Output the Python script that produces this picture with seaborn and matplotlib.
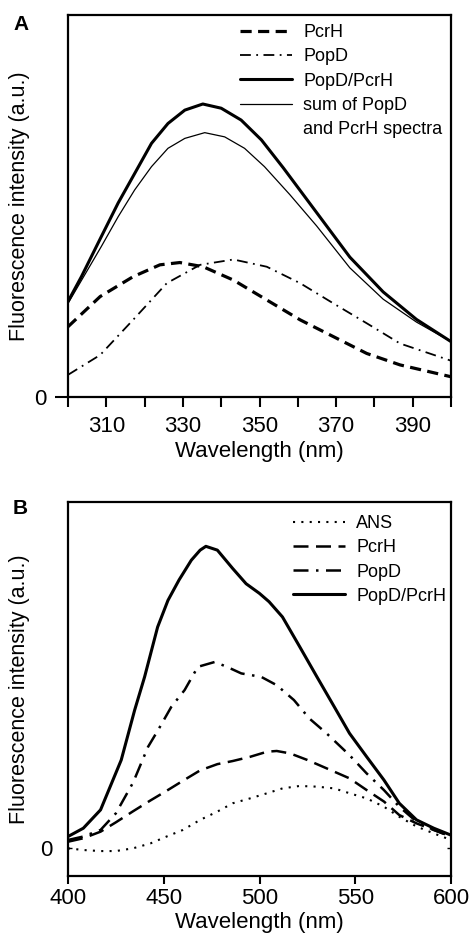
import matplotlib
matplotlib.use("Agg")
import matplotlib.pyplot as plt
from matplotlib.lines import Line2D
import numpy as np
import pandas as pd
import seaborn as sns

sns.set_theme(style="white")
plt.rcParams['font.family'] = ['Liberation Sans', 'DejaVu Sans']
plt.rcParams.update({"text.color": "black", "axes.labelcolor": "black",
                     "xtick.color": "black", "ytick.color": "black"})

# ---------------- Panel A data ----------------
a_wl = [300, 303.5, 308.7, 313.1, 317.4, 321.8, 326.1, 330.5, 335.2, 340.0, 345.2, 350.5, 356.2, 364.9, 373.6, 382.3, 391, 400]
a_popd_pcrh = [0.250, 0.315, 0.420, 0.508, 0.585, 0.664, 0.716, 0.751, 0.767, 0.756, 0.725, 0.673, 0.600, 0.483, 0.366, 0.275, 0.203, 0.145]

a_sum_wl = [300, 308.7, 313.1, 317.4, 321.8, 326.1, 330.5, 335.7, 340.9, 346.1, 351.3, 357.9, 364.9, 373.6, 382.3, 391, 400]
a_sum = [0.245, 0.394, 0.472, 0.542, 0.603, 0.651, 0.677, 0.692, 0.681, 0.651, 0.603, 0.530, 0.448, 0.338, 0.256, 0.196, 0.145]

a_pcrh_wl = [300, 308.4, 317, 324, 329.2, 335.3, 343.2, 351.9, 360.6, 369.3, 378, 386.7, 400]
a_pcrh = [0.184, 0.263, 0.315, 0.346, 0.352, 0.341, 0.306, 0.254, 0.202, 0.158, 0.114, 0.084, 0.053]

a_popd_wl = [300, 308.4, 317, 325.8, 334.5, 343.2, 351.9, 360.6, 369.3, 378, 386.7, 400]
a_popd = [0.058, 0.110, 0.202, 0.298, 0.346, 0.360, 0.341, 0.298, 0.245, 0.193, 0.140, 0.095]

a_xticks = [310, 330, 350, 370, 390]
a_xminor = [300, 320, 340, 360, 380, 400]

# ---------------- Panel B data ----------------
b_tot_wl = [400, 408, 417, 427.8, 434.8, 440, 446.8, 452.2, 458, 464.4, 469, 472, 478, 486, 493, 500, 505, 512, 521, 530, 539, 547, 556, 565, 573, 582, 591, 600]
b_tot = [0.034, 0.058, 0.111, 0.255, 0.399, 0.495, 0.639, 0.716, 0.775, 0.832, 0.861, 0.872, 0.861, 0.808, 0.764, 0.736, 0.712, 0.668, 0.582, 0.495, 0.409, 0.332, 0.264, 0.197, 0.130, 0.082, 0.058, 0.038]

b_popd_wl = [400, 408, 417, 425, 434, 441.8, 447, 453.9, 460.9, 467.8, 476.6, 483, 490.5, 500.9, 509, 518, 526, 535, 547, 556, 565, 573, 582, 591, 600]
b_popd = [0.024, 0.034, 0.053, 0.101, 0.190, 0.293, 0.341, 0.408, 0.457, 0.524, 0.538, 0.524, 0.505, 0.495, 0.471, 0.428, 0.375, 0.332, 0.269, 0.216, 0.168, 0.120, 0.077, 0.053, 0.034]

b_pcrh_wl = [400, 408, 417, 425, 434, 443, 451.5, 460, 469, 478, 486, 495, 504, 509, 516, 525, 535, 547, 556, 565, 573, 582, 591, 600]
b_pcrh = [0.019, 0.029, 0.048, 0.075, 0.107, 0.138, 0.166, 0.195, 0.225, 0.243, 0.252, 0.264, 0.279, 0.281, 0.274, 0.255, 0.231, 0.202, 0.168, 0.135, 0.096, 0.072, 0.053, 0.034]

b_ans_wl = [400, 408, 417, 425, 434, 443, 451.5, 460, 469, 478, 486, 495, 504, 512, 521, 530, 539, 547, 556, 565, 573, 582, 591, 600]
b_ans = [0.0, -0.005, -0.008, -0.008, 0.0, 0.014, 0.034, 0.053, 0.082, 0.106, 0.130, 0.144, 0.159, 0.173, 0.180, 0.178, 0.173, 0.159, 0.144, 0.120, 0.091, 0.063, 0.043, 0.024]

b_xticks = [400, 450, 500, 550, 600]

fig = plt.figure(figsize=(4.7, 9.4), dpi=100)
axA = fig.add_axes([68/470, 1-397/940, (451-68)/470, (397-15)/940])
axB = fig.add_axes([68/470, 1-876/940, (451-68)/470, (876-502)/940])

def draw(ax, x, y, **kw):
    df = pd.DataFrame({"x": x, "y": y})
    sns.lineplot(data=df, x="x", y="y", ax=ax, color="black", estimator=None, sort=True, **kw)

LS_A_PCRH = (0, (3.5, 2))
LS_DASHDOT = (0, (6, 3, 1, 3))
LS_B_PCRH = (0, (6, 3))
LS_DOT = (0, (1, 3))

# Panel A
draw(axA, a_pcrh_wl, a_pcrh, linewidth=2.3, linestyle=LS_A_PCRH)
draw(axA, a_popd_wl, a_popd, linewidth=1.3, linestyle=LS_DASHDOT)
draw(axA, a_wl, a_popd_pcrh, linewidth=2.2, linestyle="-")
draw(axA, a_sum_wl, a_sum, linewidth=0.9, linestyle="-")

axA.set_xlim(300, 400)
axA.set_ylim(0, 1)
axA.set_xticks(a_xticks)
axA.set_xticks(a_xminor, minor=True)
axA.set_yticks([0])
axA.set_yticklabels(["0"])
axA.tick_params(axis="x", which="both", direction="out", length=7.5, width=1.5,
                labelsize=16, pad=6, bottom=True)
axA.tick_params(axis="y", direction="out", length=9.5, width=1.5, labelsize=16, left=True, pad=6)
axA.set_xlabel("Wavelength (nm)", fontsize=16, labelpad=3)
axA.set_ylabel("Fluorescence intensity (a.u.)", fontsize=15.5)

hA = [Line2D([], [], color="black", lw=2.3, ls=LS_A_PCRH),
      Line2D([], [], color="black", lw=1.3, ls=LS_DASHDOT),
      Line2D([], [], color="black", lw=2.2, ls="-"),
      Line2D([], [], color="black", lw=0.9, ls="-"),
      Line2D([], [], color="none", lw=0)]
lA = ["PcrH", "PopD", "PopD/PcrH", "sum of PopD", "and PcrH spectra"]
legA = axA.legend(hA, lA, loc="upper left", bbox_to_anchor=((240-68)/383, 0.976), frameon=False,
                  fontsize=13, handlelength=2.9, handletextpad=0.6, labelspacing=0.4,
                  borderaxespad=0, borderpad=0)

# Panel B
draw(axB, b_ans_wl, b_ans, linewidth=1.5, linestyle=LS_DOT)
draw(axB, b_pcrh_wl, b_pcrh, linewidth=1.8, linestyle=LS_B_PCRH)
draw(axB, b_popd_wl, b_popd, linewidth=1.8, linestyle=LS_DASHDOT)
draw(axB, b_tot_wl, b_tot, linewidth=2.2, linestyle="-")

axB.set_xlim(400, 600)
axB.set_ylim(-0.08, 1.0)
axB.set_xticks(b_xticks)
axB.set_yticks([0])
axB.set_yticklabels(["0"])
axB.tick_params(axis="x", direction="out", length=6, width=1.5, labelsize=16, pad=3, bottom=True)
axB.tick_params(axis="y", direction="in", length=3, width=1, labelsize=16, left=True, right=True, pad=11)
axB.set_xlabel("Wavelength (nm)", fontsize=16, labelpad=2)
axB.set_ylabel("Fluorescence intensity (a.u.)", fontsize=15.5)

hB = [Line2D([], [], color="black", lw=1.5, ls=LS_DOT),
      Line2D([], [], color="black", lw=1.8, ls=LS_B_PCRH),
      Line2D([], [], color="black", lw=1.8, ls=LS_DASHDOT),
      Line2D([], [], color="black", lw=2.2, ls="-")]
lB = ["ANS", "PcrH", "PopD", "PopD/PcrH"]
legB = axB.legend(hB, lB, loc="upper left", bbox_to_anchor=((293-68)/383, 0.965), frameon=False,
                  fontsize=13, handlelength=2.9, handletextpad=0.6, labelspacing=0.4,
                  borderaxespad=0, borderpad=0)

for leg in (legA, legB):
    for t in leg.get_texts():
        t.set_color("black")

for ax in (axA, axB):
    for s in ax.spines.values():
        s.set_visible(True)
        s.set_color("black")
        s.set_linewidth(1.6)
    ax.yaxis.set_label_coords(-0.10, 0.5)

fig.text(13/470, 1-24/940, "A", fontsize=15, fontweight="bold", va="center", ha="left")
fig.text(13/470, 1-508/940, "B", fontsize=15, fontweight="bold", va="center", ha="left")

fig.savefig("out.png", dpi=100)
